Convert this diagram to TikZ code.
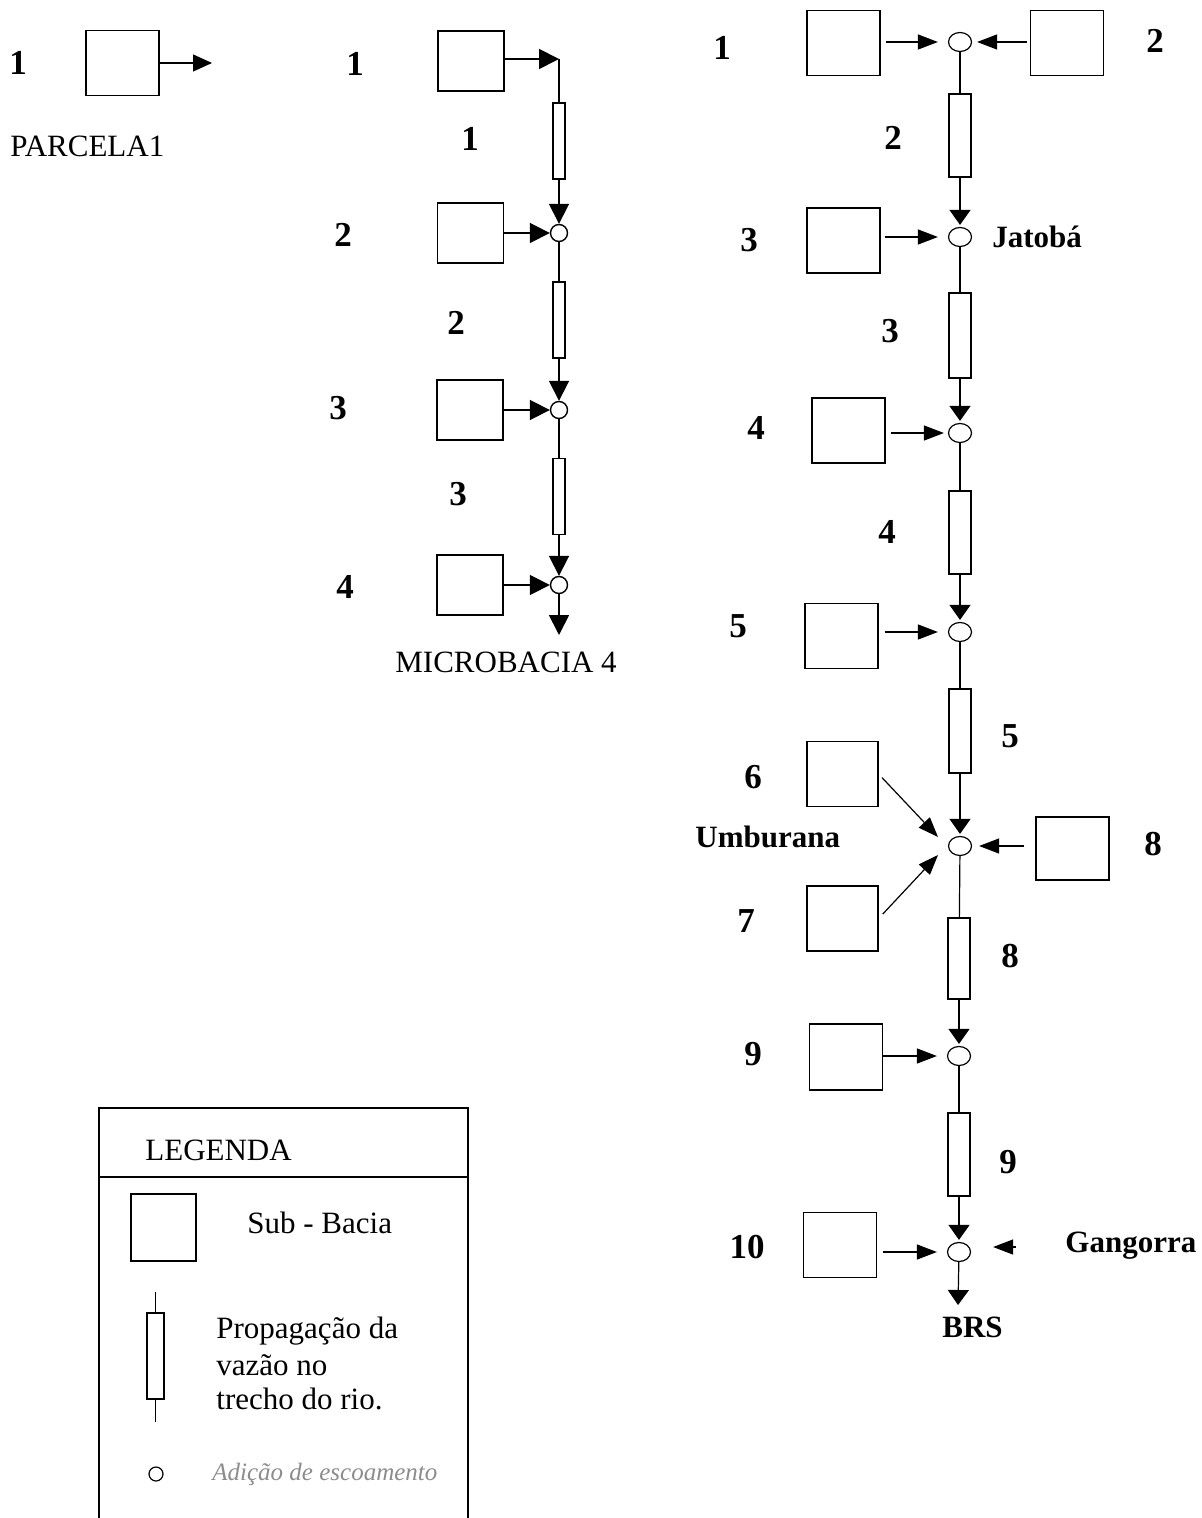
\documentclass[tikz,border=0pt]{standalone}
\usepackage{fontspec}
\setmainfont{Liberation Serif}
\usetikzlibrary{arrows.meta,shapes.geometric}
\begin{document}
\begin{tikzpicture}[x=0.5pt,y=-0.5pt,
  sub/.style={draw, line width=0.6pt, minimum width=36.5pt, minimum height=32.5pt, inner sep=0pt},
  subm/.style={draw, line width=0.8pt, minimum width=33pt, minimum height=30pt, inner sep=0pt},
  reachR/.style={draw, line width=0.6pt, minimum width=11pt, minimum height=41.5pt, inner sep=0pt},
  reachM/.style={draw, line width=0.8pt, minimum width=6pt, minimum height=38pt, inner sep=0pt},
  jn/.style={draw, ellipse, line width=0.6pt, minimum width=11.5pt, minimum height=9.5pt, inner sep=0pt},
  jm/.style={draw, circle, line width=0.7pt, minimum size=8.5pt, inner sep=0pt},
  lbl/.style={font=\fontsize{17.5}{20}\selectfont\bfseries, inner sep=0pt, anchor=base},
  lblw/.style={font=\fontsize{15.5}{18}\selectfont\bfseries, inner sep=0pt, anchor=base west},
  txt/.style={font=\fontsize{15.5}{18}\selectfont, inner sep=0pt, anchor=base west},
  flowA/.style={line width=0.6pt, -{Triangle[length=9.5pt,width=8.5pt]}},
  flowM/.style={line width=0.9pt, -{Triangle[length=10pt,width=10pt]}},
  lineM/.style={line width=0.9pt},
  flowH/.style={line width=0.6pt, -{Triangle[length=10pt,width=7.5pt]}},
  flowV/.style={line width=0.6pt, -{Triangle[length=7.5pt,width=10.5pt]}},
  river/.style={line width=0.6pt}
]
\useasboundingbox (0,0) rectangle (1202,1518);

% ---------- Panel A: parcela ----------
\node[lbl] (la1) at (18,75) {1};
\node[sub] (pa) at (122.5,63) {};
\coordinate (paout) at (212,63);
\draw[flowA] (pa) -- (paout);
\node[txt] (parc) at (10,157) {PARCELA1};

% ---------- Panel B: microbacia ----------
\node[subm] (m1) at (471,61) {};
\node[subm] (m2) at (470.5,233) {};
\node[subm] (m3) at (470,410) {};
\node[subm] (m4) at (470,585) {};
\coordinate (mc) at (559,59);
\node[reachM] (mr1) at (559,141) {};
\node[jm] (c2) at (559,233) {};
\node[reachM] (mr2) at (559,320) {};
\node[jm] (c3) at (559,410) {};
\node[reachM] (mr3) at (559,496.5) {};
\node[jm] (c4) at (559,585) {};
\coordinate (mout) at (559,635);

\draw[flowM] (m1.east |- mc) -- (mc);
\draw[lineM] (mc) -- (mr1);
\draw[flowM] (mr1) -- (c2);
\draw[flowM] (m2) -- (c2);
\draw[lineM] (c2) -- (mr2);
\draw[flowM] (mr2) -- (c3);
\draw[flowM] (m3) -- (c3);
\draw[lineM] (c3) -- (mr3);
\draw[flowM] (mr3) -- (c4);
\draw[flowM] (m4) -- (c4);
\draw[flowM] (c4) -- (mout);

\node[lbl] (mb1) at (355,76) {1};
\node[lbl] (mt1) at (470,151) {1};
\node[lbl] (mb2) at (343,247) {2};
\node[lbl] (mt2) at (456,335) {2};
\node[lbl] (mb3) at (338,420) {3};
\node[lbl] (mt3) at (458,505) {3};
\node[lbl] (mb4) at (345,598) {4};
\node[txt] (micro) at (395,672) {MICROBACIA 4};

% ---------- Panel C: bacia ----------
\node[sub] (b1) at (843.5,43) {};
\node[sub] (b2) at (1067,43) {};
\node[sub] (b3) at (843.5,240.5) {};
\node[sub] (b4) at (848.5,430.5) {};
\node[sub] (b5) at (841.5,636) {};
\node[sub, minimum width=35.5pt] (b6) at (842.5,774) {};
\node[sub, minimum width=35.5pt] (b7) at (842.5,918.5) {};
\node[sub, minimum height=31.5pt] (b8) at (1072.5,848.5) {};
\node[sub, minimum height=33pt] (b9) at (846,1057) {};
\node[sub] (b10) at (840,1245) {};

\node[jn] (e1) at (960,42) {};
\node[reachR] (r2) at (960,135.5) {};
\node[jn] (e3) at (960,237) {};
\node[reachR, minimum height=42.5pt] (r3) at (960,335.5) {};
\node[jn] (e4) at (960,433) {};
\node[reachR] (r4) at (960,532.5) {};
\node[jn] (e5) at (960,632) {};
\node[reachR, minimum height=42pt] (r5) at (960,731) {};
\node[jn] (e6) at (960,846) {};
\node[reachR, minimum height=40.5pt] (r8) at (959,958.5) {};
\node[jn] (e9) at (959,1056) {};
\node[reachR] (r9) at (959,1154.5) {};
\node[jn] (e10) at (959,1252) {};
\coordinate (t6) at (938,837);
\coordinate (t7) at (938,855);
\coordinate (gg) at (1016,1247);
\coordinate (brsout) at (958,1305);

% feeds
\draw[flowH, shorten <=2.5pt, shorten >=5pt] (b1.east |- e1) -- (e1);
\draw[flowH, shorten <=1.5pt, shorten >=2.5pt] (b2.west |- e1) -- (e1);
\draw[flowH, shorten <=2pt, shorten >=5pt] (b3.east |- e3) -- (e3);
\draw[flowH, shorten <=2.5pt, shorten >=2pt] (b4.east |- e4) -- (e4);
\draw[flowH, shorten <=3pt, shorten >=5pt] (b5.east |- e5) -- (e5);
\draw[flowH, shorten <=2.5pt] (b6.east) -- (t6);
\draw[flowH, shorten <=3pt] (b7.east) -- (t7);
\draw[flowH, shorten <=5.5pt, shorten >=3.5pt] (b8.west |- e6) -- (e6);
\draw[flowH, shorten >=5pt] (b9.east |- e9) -- (e9);
\draw[flowH, shorten <=3pt, shorten >=5pt] (b10.east |- e10) -- (e10);
\draw[flowH] (gg) -- ([xshift=11pt]e10.east |- gg);

% river
\draw[river] (e1) -- (r2);
\draw[flowV, shorten >=1pt] (r2) -- (e3);
\draw[river] (e3) -- (r3);
\draw[flowV, shorten >=1pt] (r3) -- (e4);
\draw[river] (e4) -- (r4);
\draw[flowV, shorten >=1pt] (r4) -- (e5);
\draw[river] (e5) -- (r5);
\draw[flowV, shorten >=1pt] (r5) -- (e6);
\draw[river] (e6) -- (r8);
\draw[flowV, shorten >=1pt] (r8) -- (e9);
\draw[river] (e9) -- (r9);
\draw[flowV, shorten >=1pt] (r9) -- (e10);
\draw[flowV] (e10) -- (brsout);

% labels
\node[lbl] (nb1) at (722,60) {1};
\node[lbl] (nb2) at (1155,53) {2};
\node[lbl] (nr2) at (893,150) {2};
\node[lbl] (nb3) at (749,252) {3};
\node[lblw] (jat) at (992,248) {Jatobá};
\node[lbl] (nr3) at (890,343) {3};
\node[lbl] (nb4) at (756,439) {4};
\node[lbl] (nr4) at (887,543) {4};
\node[lbl] (nb5) at (738,637) {5};
\node[lbl] (nr5) at (1010,747) {5};
\node[lbl] (nb6) at (753,788) {6};
\node[lblw] (umb) at (695,847) {Umburana};
\node[lbl] (nb7) at (746,932) {7};
\node[lbl] (nb8) at (1153,855) {8};
\node[lbl] (nr8) at (1010,967) {8};
\node[lbl] (nb9) at (753,1065) {9};
\node[lbl] (nr9) at (1008,1173) {9};
\node[lbl] (nb10) at (747,1258) {10};
\node[lblw] (gang) at (1065,1252) {Gangorra};
\node[lblw] (brs) at (942,1337) {BRS};

% ---------- Legend ----------
\draw[line width=0.6pt] (99,1518) -- (99,1108) -- (468,1108) -- (468,1518);
\draw[line width=0.6pt] (99,1177) -- (468,1177);
\node[txt] (leg) at (145,1160) {LEGENDA};
\node[sub, minimum width=32.5pt, minimum height=33.5pt] (lsq) at (163.5,1227.5) {};
\node[txt] (lsub) at (247,1233) {Sub - Bacia};
\node[draw, line width=0.6pt, minimum width=8.5pt, minimum height=43pt, inner sep=0pt] (lrc) at (155.5,1356) {};
\coordinate (lt) at (155.5,1292);
\coordinate (lb) at (155.5,1422);
\draw[river] (lt) -- (lrc);
\draw[river] (lrc) -- (lb);
\node[txt] (lp1) at (216,1338) {Propagação da};
\node[txt] (lp2) at (216,1375) {vazão no};
\node[txt] (lp3) at (216,1409) {trecho do rio.};
\node[draw, circle, line width=0.6pt, minimum size=7pt, inner sep=0pt] (lci) at (156,1474) {};
\node[inner sep=0pt, anchor=base west, text=black!45, font=\fontsize{12.5}{14}\selectfont\itshape] (ladd) at (212,1480) {Adição de escoamento};
\end{tikzpicture}
\end{document}
